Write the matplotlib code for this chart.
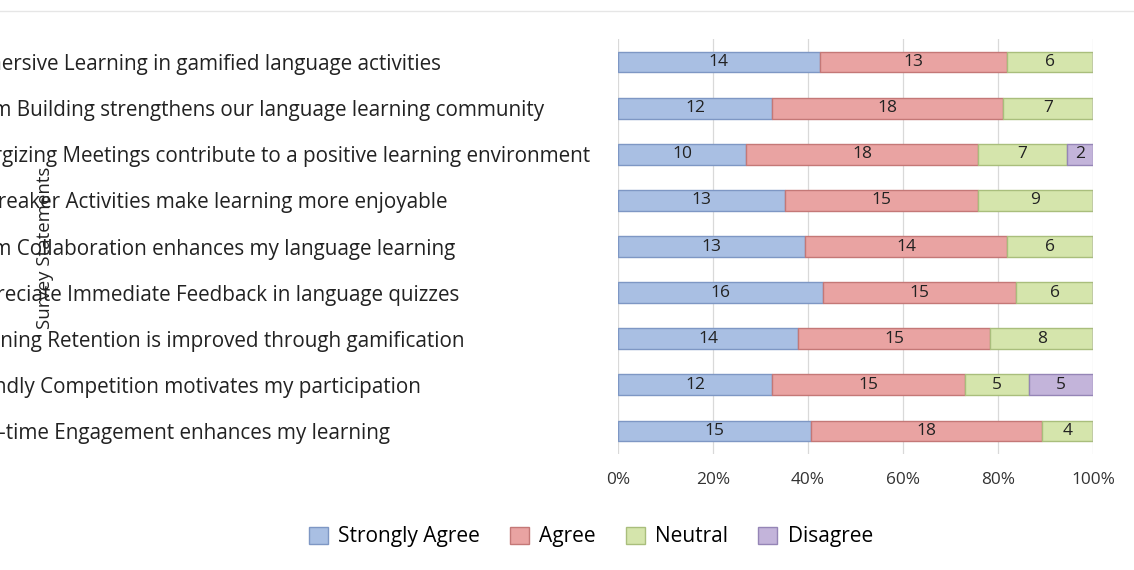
import matplotlib
matplotlib.use("Agg")
import matplotlib.pyplot as plt
import numpy as np

statements = [
    "Immersive Learning in gamified language activities",
    "Team Building strengthens our language learning community",
    "Energizing Meetings contribute to a positive learning environment",
    "Icebreaker Activities make learning more enjoyable",
    "Team Collaboration enhances my language learning",
    "Appreciate Immediate Feedback in language quizzes",
    "Learning Retention is improved through gamification",
    "Friendly Competition motivates my participation",
    "Real-time Engagement enhances my learning",
]
strongly_agree = [14, 12, 10, 13, 13, 16, 14, 12, 15]
agree = [13, 18, 18, 15, 14, 15, 15, 15, 18]
neutral = [6, 7, 7, 9, 6, 6, 8, 5, 4]
disagree = [0, 0, 2, 0, 0, 0, 0, 5, 0]

series_names = ["Strongly Agree", "Agree", "Neutral", "Disagree"]
series_values = [strongly_agree, agree, neutral, disagree]
fills = ["#A9BFE3", "#E9A3A2", "#D5E5AC", "#C3B4DA"]
edges = ["#7E97C4", "#C47877", "#A9BE7C", "#9585B6"]

plt.rcParams['font.family'] = ['Open Sans', 'DejaVu Sans']

fig = plt.figure(figsize=(11.34, 5.70), dpi=100)
ax = fig.add_axes([0.545, 0.2035, 0.419, 0.728])

vals = np.array(series_values, dtype=float)
totals = vals.sum(axis=0)
pct = vals / totals * 100
y = np.arange(len(statements))
left = np.zeros(len(statements))
for name, p, v, fc, ec in zip(series_names, pct, vals, fills, edges):
    ax.barh(y, p, left=left, height=0.45, color=fc, edgecolor=ec,
            linewidth=1.0, label=name)
    for i in range(len(y)):
        if v[i] > 0:
            ax.text(left[i] + p[i] / 2, y[i], f"{int(v[i])}", ha="center",
                    va="center", fontsize=12.5, color="#222222")
    left += p

ax.set_xlim(0, 100)
ax.set_ylim(len(statements) - 0.5, -0.5)
ax.set_xticks([0, 20, 40, 60, 80, 100])
ax.set_xticklabels(["0%", "20%", "40%", "60%", "80%", "100%"], fontsize=12.4,
                   color="#333333")
ax.set_yticks(y)
ax.set_yticklabels(statements, fontsize=14.9, color="#222222")
for lbl in ax.get_yticklabels():
    lbl.set_horizontalalignment("left")
ax.tick_params(axis="both", length=0)
ax.tick_params(axis="y", pad=475)
ax.tick_params(axis="x", pad=13)
ax.grid(axis="x", color="#D9D9D9", linewidth=0.9)
ax.set_axisbelow(True)
for s in ax.spines.values():
    s.set_visible(False)

fig.text(0.040, 0.565, "Survey Statements", rotation=90, ha="center",
         va="center", fontsize=13.4, color="#222222")

# faint chart border line at top
fig.add_artist(plt.Line2D([0, 1], [0.981, 0.981], color="#E6E6E6",
                          linewidth=1.0, transform=fig.transFigure))

handles, labels = ax.get_legend_handles_labels()
fig.legend(handles, labels, loc="center", bbox_to_anchor=(0.521, 0.058),
           ncol=4, frameon=False, fontsize=15, handlelength=0.9,
           handleheight=0.9, columnspacing=1.45, handletextpad=0.5)

fig.savefig("out.png", dpi=100, facecolor="white")
